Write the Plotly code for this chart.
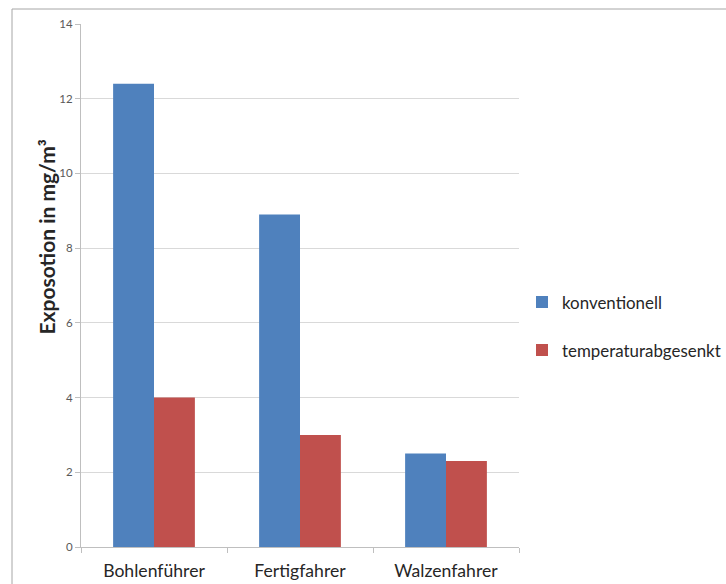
import plotly.graph_objects as go

# Exposure values per workstation
categories = ["Bohlenführer", "Fertigfahrer", "Walzenfahrer"]
konventionell = [12.4, 8.9, 2.5]
temperaturabgesenkt = [4.0, 3.0, 2.3]
y_ticks = [0, 2, 4, 6, 8, 10, 12, 14]

W, H = 726, 584
L, R, T, B = 81, 207, 24, 37
pw, ph = W - L - R, H - T - B

fig = go.Figure()
fig.add_trace(go.Bar(x=categories, y=konventionell, name="konventionell",
                     marker=dict(color="#4F81BD", line=dict(width=0)),
                     legendgroup="a"))
fig.add_trace(go.Bar(x=categories, y=temperaturabgesenkt, name="temperaturabgesenkt",
                     marker=dict(color="#C0504D", line=dict(width=0)),
                     legendgroup="b"))

font_family = "Lato, Open Sans, sans-serif"

fig.update_layout(
    width=W, height=H,
    margin=dict(l=L, r=R, t=T, b=B, autoexpand=False),
    paper_bgcolor="white", plot_bgcolor="white",
    barmode="group", bargap=0.44, bargroupgap=0,
    font=dict(family=font_family, color="#262626"),
    showlegend=True,
    legend=dict(x=(522 - L) / pw, y=(547 - 326) / ph, xanchor="left", yanchor="middle",
                traceorder="grouped", tracegroupgap=23,
                font=dict(size=16.9, color="#262626"),
                itemwidth=30, bgcolor="rgba(0,0,0,0)"),
    xaxis=dict(showline=True, linecolor="#BFBFBF", linewidth=1,
               ticks="outside", tickson="boundaries", ticklen=5, tickcolor="#BFBFBF",
               ticklabelstandoff=8,
               tickfont=dict(size=17.6, color="#262626"), showgrid=False),
    yaxis=dict(range=[0, 14], tickvals=y_ticks, showline=True, linecolor="#BFBFBF",
               linewidth=1, ticks="outside", ticklen=5, tickcolor="#BFBFBF",
               tickfont=dict(size=11.5, color="#595959"), showgrid=True,
               gridcolor="#D9D9D9", gridwidth=1, zeroline=False),
)

fig.add_annotation(text="<b>Exposotion in mg/m³</b>", textangle=-90,
                   x=(31 - L) / pw, y=(547 - 237) / ph, xref="paper", yref="paper",
                   showarrow=False, font=dict(size=21, color="#262626", family=font_family))

# outer chart frame
fig.add_shape(type="rect", xref="paper", yref="paper",
              x0=(12 - L) / pw, x1=(740 - L) / pw,
              y0=(547 - 600) / ph, y1=(547 - 9) / ph,
              line=dict(color="#A6A6A6", width=1), fillcolor="rgba(0,0,0,0)", layer="below")

fig.write_html("out.html")
